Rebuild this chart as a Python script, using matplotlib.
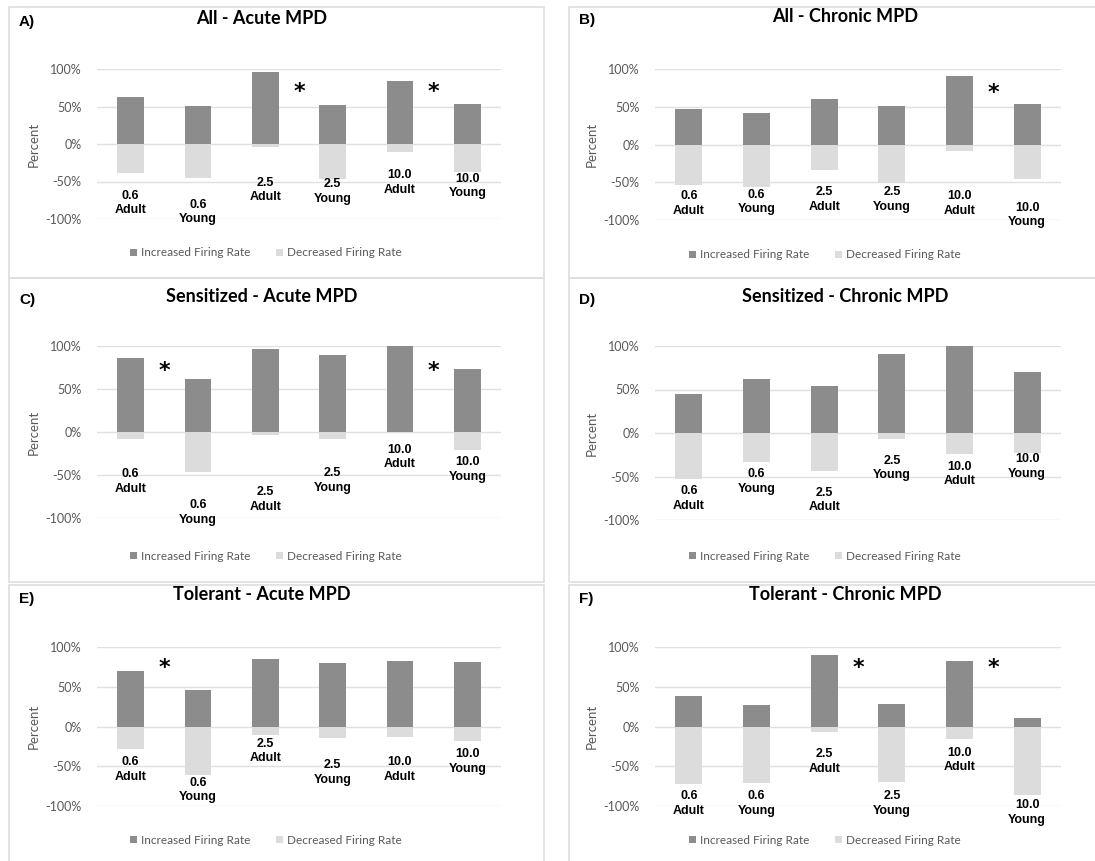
import matplotlib
matplotlib.use("Agg")
import matplotlib.pyplot as plt
from matplotlib.patches import Rectangle
from matplotlib.ticker import FuncFormatter

categories = ["0.6\nAdult", "0.6\nYoung", "2.5\nAdult", "2.5\nYoung", "10.0\nAdult", "10.0\nYoung"]

# percent of neurons with increased / decreased firing rate
all_acute_inc = [62.5, 51, 95.5, 52, 83.5, 53.5]
all_acute_dec = [-38, -45.5, -4.5, -47, -10, -37.5]
all_chronic_inc = [47, 41.5, 60, 51, 91, 54]
all_chronic_dec = [-53, -56.5, -33.5, -50.5, -8, -46]
sens_acute_inc = [86.4, 62, 97, 89, 100, 73]
sens_acute_dec = [-8.5, -47, -3, -8, 0, -21.5]
sens_chronic_inc = [45, 62.5, 54.4, 91, 100, 70.5]
sens_chronic_dec = [-53, -33, -44, -7, -24.5, -23.4]
tol_acute_inc = [70.4, 45.8, 85, 80, 82, 81]
tol_acute_dec = [-28.8, -60.4, -11.3, -14, -13, -18.8]
tol_chronic_inc = [38, 27.5, 89.6, 28.8, 82.5, 10.4]
tol_chronic_dec = [-72.5, -71, -7, -70, -16, -86]

# vertical placement of the category labels inside each panel
all_acute_lab = [-78.5, -90.5, -61.5, -63.5, -51.5, -56]
all_chronic_lab = [-78, -76, -72.5, -72.5, -78, -93.5]
sens_acute_lab = [-57.7, -93.5, -78.7, -56, -29, -44]
sens_chronic_lab = [-75, -55.7, -77, -40.4, -47, -38.5]
tol_acute_lab = [-54, -80, -31, -58, -54, -44]
tol_chronic_lab = [-97, -97, -44, -97, -42, -108]

# significance asterisks (x between bars, y in percent)
all_acute_sig = [(2.5, 69), (4.5, 69)]
all_chronic_sig = [(4.5, 68)]
sens_acute_sig = [(0.5, 71), (4.5, 71)]
sens_chronic_sig = []
tol_acute_sig = [(0.5, 73)]
tol_chronic_sig = [(2.5, 73), (4.5, 73)]

W, H = 1095, 861
fig = plt.figure(figsize=(W / 100, H / 100), dpi=100)

INC = "#8c8c8c"
DEC = "#dcdcdc"
GRID = "#e0e0e0"
TXT = "#595959"


def fx(px):
    return px / W


def fy(py):
    return 1 - py / H


def panel(box, axbox, letter, title, title_xy, legend_y, inc, dec, lab_y, sig):
    x0, y0, x1, y1 = box
    fig.add_artist(Rectangle((fx(x0), fy(y1)), fx(x1 - x0), (y1 - y0) / H,
                             transform=fig.transFigure, fill=False,
                             edgecolor="#dedede", lw=1.2))
    fig.text(fx(x0 + 10), fy(title_xy[1] + 4), letter, fontsize=11, fontweight="bold",
             family="Liberation Sans", va="center", ha="left")
    fig.text(fx(title_xy[0]), fy(title_xy[1]), title, fontsize=13, fontweight="bold",
             family="Lato", ha="center", va="center")

    ax0, ay0, ax1, ay1 = axbox
    ax = fig.add_axes([fx(ax0), fy(ay1), fx(ax1 - ax0), (ay1 - ay0) / H])
    x = range(len(categories))
    b1 = ax.bar(x, inc, width=0.4, color=INC, label="Increased Firing Rate", zorder=2)
    b2 = ax.bar(x, dec, width=0.4, color=DEC, label="Decreased Firing Rate", zorder=2)
    ax.set_xlim(-0.5, 5.5)
    ax.set_ylim(-100, 100)
    ax.set_yticks([-100, -50, 0, 50, 100])
    ax.yaxis.set_major_formatter(FuncFormatter(lambda v, p: f"{v:.0f}%"))
    ax.tick_params(axis="y", length=0, labelsize=9, labelcolor=TXT, pad=11)
    for t in ax.get_yticklabels():
        t.set_family("Lato")
    ax.set_xticks([])
    ax.grid(axis="y", color=GRID, lw=1, zorder=0)
    for s in ax.spines.values():
        s.set_visible(False)
    ax.set_ylabel("Percent", fontsize=9.5, color=TXT, family="Lato", labelpad=4)

    for i, (lbl, ly) in enumerate(zip(categories, lab_y)):
        ax.text(i, ly, lbl, ha="center", va="center", fontsize=9, fontweight="bold",
                family="Liberation Sans", linespacing=1.3, clip_on=False, zorder=3)
    for sx, sy in sig:
        ax.text(sx, sy, "*", ha="center", va="center", fontsize=16, fontweight="bold",
                clip_on=False)

    leg = ax.legend(handles=[b1, b2], loc="center",
                    bbox_to_anchor=(fx((ax0 + ax1) / 2 - 33), fy(legend_y)),
                    bbox_transform=fig.transFigure, ncol=2, frameon=False,
                    handlelength=0.6, handleheight=0.6, handletextpad=0.3,
                    columnspacing=2.2, prop={"family": "Lato", "size": 8.5})
    for t in leg.get_texts():
        t.set_color(TXT)
    return ax


panel((9, 7, 544, 278), (97, 69, 501, 219), "A)", "All - Acute MPD", (262, 18), 253,
      all_acute_inc, all_acute_dec, all_acute_lab, all_acute_sig)
panel((569, 7, 1110, 278), (655, 69, 1061, 220), "B)", "All - Chronic MPD", (845, 16), 255,
      all_chronic_inc, all_chronic_dec, all_chronic_lab, all_chronic_sig)
panel((9, 278, 544, 582), (97, 346, 501, 518), "C)", "Sensitized - Acute MPD", (262, 296), 556,
      sens_acute_inc, sens_acute_dec, sens_acute_lab, sens_acute_sig)
panel((569, 278, 1110, 582), (655, 346, 1061, 520), "D)", "Sensitized - Chronic MPD", (845, 296), 556,
      sens_chronic_inc, sens_chronic_dec, sens_chronic_lab, sens_chronic_sig)
panel((9, 585, 544, 870), (97, 647, 501, 806), "E)", "Tolerant - Acute MPD", (262, 595), 840,
      tol_acute_inc, tol_acute_dec, tol_acute_lab, tol_acute_sig)
panel((569, 585, 1110, 870), (655, 647, 1061, 806), "F)", "Tolerant - Chronic MPD", (845, 595), 840,
      tol_chronic_inc, tol_chronic_dec, tol_chronic_lab, tol_chronic_sig)

fig.savefig("out.png", dpi=100)
